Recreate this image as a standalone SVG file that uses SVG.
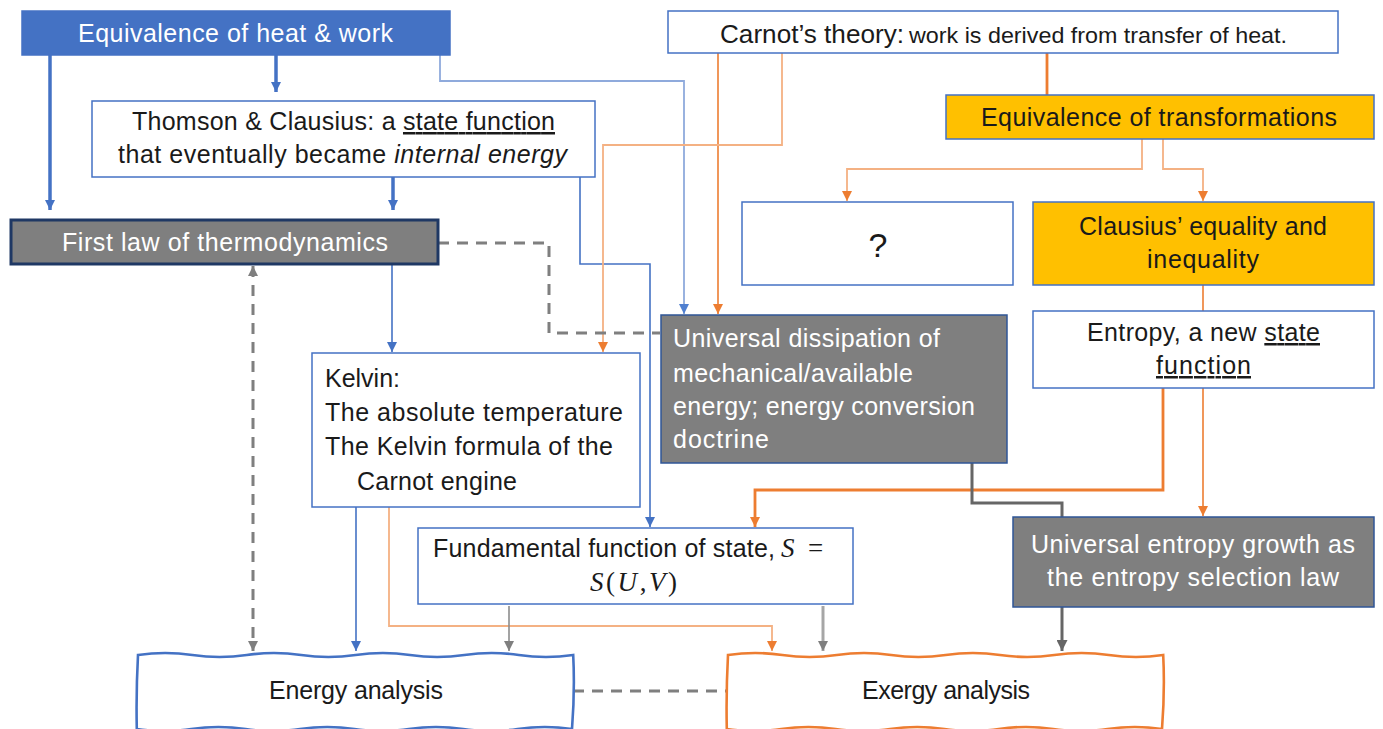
<svg xmlns="http://www.w3.org/2000/svg" width="1383" height="729" viewBox="0 0 1383 729">
  <style>
    text { font-family: "Liberation Sans", Arial, sans-serif; font-size: 25px; fill: #1a1a1a; }
    .w { fill: #ffffff; }
    .math { font-family: "Liberation Serif", "Times New Roman", serif; font-style: italic; }
    .mathr { font-family: "Liberation Serif", "Times New Roman", serif; font-style: normal; }
    .box { fill: #ffffff; stroke: #4472C4; stroke-width: 1.5; }
    .blue { fill: #4472C4; stroke: #4472C4; stroke-width: 1.5; }
    .gold { fill: #FFC000; stroke: #4472C4; stroke-width: 1.5; }
    .grey { fill: #7F7F7F; stroke: #2F5597; stroke-width: 1.5; }
    .law { fill: #7F7F7F; stroke: #1F3864; stroke-width: 3; }
    .c { fill: none; }
    .bl3 { stroke: #4472C4; stroke-width: 3.5; }
    .bl { stroke: #4472C4; stroke-width: 1.6; }
    .blt { stroke: #8FAADC; stroke-width: 1.8; }
    .or { stroke: #ED7D31; stroke-width: 1.6; }
    .or3 { stroke: #ED7D31; stroke-width: 2.8; }
    .orl { stroke: #F4B183; stroke-width: 1.8; }
    .dash { stroke: #7F7F7F; stroke-width: 3; stroke-dasharray: 11 8; }
    .dg { stroke: #666666; stroke-width: 3; }
    .g { stroke: #8C8C8C; stroke-width: 1.6; }
    .lg { stroke: #A6A6A6; stroke-width: 3; }
  </style>
  <defs>
    <marker id="aBlue" markerUnits="userSpaceOnUse" markerWidth="10" markerHeight="10" refX="10" refY="5" orient="auto"><path d="M0,0 L10,5 L0,10 z" fill="#4472C4"/></marker>
    <marker id="aBlueL" markerUnits="userSpaceOnUse" markerWidth="10" markerHeight="10" refX="10" refY="5" orient="auto"><path d="M0,0 L10,5 L0,10 z" fill="#4F7FD0"/></marker>
    <marker id="aOr" markerUnits="userSpaceOnUse" markerWidth="10" markerHeight="10" refX="10" refY="5" orient="auto"><path d="M0,0 L10,5 L0,10 z" fill="#ED7D31"/></marker>
    <marker id="aGrey" markerUnits="userSpaceOnUse" markerWidth="10" markerHeight="10" refX="10" refY="5" orient="auto"><path d="M0,0 L10,5 L0,10 z" fill="#7F7F7F"/></marker>
    <marker id="aDark" markerUnits="userSpaceOnUse" markerWidth="11" markerHeight="11" refX="11" refY="5.5" orient="auto"><path d="M0,0 L11,5.5 L0,11 z" fill="#666666"/></marker>
    <marker id="aDashEnd" markerUnits="userSpaceOnUse" markerWidth="10" markerHeight="10" refX="10" refY="5" orient="auto-start-reverse"><path d="M0,0 L10,5 L0,10 z" fill="#7F7F7F"/></marker>
  </defs>

  <!-- connectors -->
  <g id="connectors" class="c">
    <path class="c bl3" d="M50,55 V210" marker-end="url(#aBlue)"/>
    <path class="c bl3" d="M276,55 V92" marker-end="url(#aBlue)"/>
    <path class="c bl3" d="M393,177 V210" marker-end="url(#aBlue)"/>
    <path class="c blt" d="M440,55 V81 H684 V314" marker-end="url(#aBlueL)"/>
    <path class="c bl" d="M580,177 V264 H650 V527" marker-end="url(#aBlue)"/>
    <path class="c bl" d="M392,265 V352" marker-end="url(#aBlue)"/>
    <path class="c bl" d="M356,507 V651" marker-end="url(#aBlue)"/>

    <path class="c or" d="M718,53 V314" marker-end="url(#aOr)"/>
    <path class="c orl" d="M782,53 V145 H603 V352" marker-end="url(#aOr)"/>
    <path class="c or3" d="M1047,53 V95"/>
    <path class="c orl" d="M1142,139 V169 H847 V201" marker-end="url(#aOr)"/>
    <path class="c orl" d="M1163,139 V169 H1203 V201" marker-end="url(#aOr)"/>
    <path class="c or" d="M1203,285 V311"/>
    <path class="c or3" d="M1163,388 V490 H755 V527" marker-end="url(#aOr)"/>
    <path class="c or" d="M1203,388 V516" marker-end="url(#aOr)"/>
    <path class="c orl" d="M389,507 V626 H772 V651" marker-end="url(#aOr)"/>

    <path class="c dash" d="M438,243 H549 V333 H660"/>
    <path class="c dash" d="M253,266 V651" marker-start="url(#aDashEnd)" marker-end="url(#aDashEnd)"/>
    <path class="c dash" d="M573,691 H727"/>
    <path class="c dg" d="M972,463 V503 H1062 V517"/>
    <path class="c dg" d="M1062,607 V651" marker-end="url(#aDark)"/>
    <path class="c g" d="M509,606 V651" marker-end="url(#aGrey)"/>
    <path class="c lg" d="M823,606 V651" marker-end="url(#aGrey)"/>
  </g>

  <!-- nodes -->
  <g id="heat-work">
    <rect class="blue" x="22" y="11" width="428" height="44"/>
    <text class="w" x="78" y="42" textLength="315">Equivalence of heat &amp; work</text>
  </g>

  <g id="carnot">
    <rect class="box" x="668" y="11" width="670" height="42"/>
    <text x="720" y="43" style="font-size:26px" textLength="184" lengthAdjust="spacingAndGlyphs">Carnot’s theory:</text>
    <text x="909" y="43" style="font-size:22px" textLength="378" lengthAdjust="spacingAndGlyphs">work is derived from transfer of heat.</text>
  </g>

  <g id="thomson-clausius">
    <rect class="box" x="92" y="101" width="503" height="76"/>
    <text x="132" y="130" textLength="423">Thomson &amp; Clausius: a <tspan text-decoration="underline">state function</tspan></text>
    <text x="118" y="163" textLength="449">that eventually became <tspan font-style="italic">internal energy</tspan></text>
  </g>

  <g id="first-law">
    <rect class="law" x="11" y="220" width="427" height="44"/>
    <text class="w" x="62" y="251" textLength="326">First law of thermodynamics</text>
  </g>

  <g id="equivalence-transformations">
    <rect class="gold" x="946" y="95" width="428" height="44"/>
    <text x="981" y="126" textLength="356">Equivalence of transformations</text>
  </g>

  <g id="unknown">
    <rect class="box" x="742" y="202" width="271" height="83"/>
    <text x="878" y="257" text-anchor="middle" style="font-size:34px">?</text>
  </g>

  <g id="clausius-inequality">
    <rect class="gold" x="1033" y="202" width="341" height="83"/>
    <text x="1079" y="235" textLength="248">Clausius’ equality and</text>
    <text x="1147" y="268" textLength="112">inequality</text>
  </g>

  <g id="entropy">
    <rect class="box" x="1033" y="311" width="341" height="77"/>
    <text x="1087" y="341" textLength="233">Entropy, a new <tspan text-decoration="underline">state</tspan></text>
    <text x="1156" y="374" textLength="95" text-decoration="underline">function</text>
  </g>

  <g id="dissipation">
    <rect class="grey" x="661" y="315" width="346" height="148"/>
    <text class="w" x="673" y="347" textLength="267">Universal dissipation of</text>
    <text class="w" x="673" y="382" textLength="240">mechanical/available</text>
    <text class="w" x="673" y="415" textLength="302">energy; energy conversion</text>
    <text class="w" x="673" y="448" textLength="96">doctrine</text>
  </g>

  <g id="kelvin">
    <rect class="box" x="312" y="353" width="328" height="154"/>
    <text x="325" y="387" textLength="75">Kelvin:</text>
    <text x="325" y="421" textLength="298">The absolute temperature</text>
    <text x="325" y="455" textLength="288">The Kelvin formula of the</text>
    <text x="357" y="490" textLength="160">Carnot engine</text>
  </g>

  <g id="fundamental-function">
    <rect class="box" x="418" y="528" width="435" height="76"/>
    <text x="433" y="557" textLength="342">Fundamental function of state,</text>
    <text class="math" x="781" y="557" style="font-size:27px">S</text>
    <text class="mathr" x="808" y="557" style="font-size:27px">=</text>
    <text class="mathr" x="590" y="591" style="font-size:27px" textLength="87"><tspan class="math">S</tspan>(<tspan class="math">U</tspan>,<tspan class="math">V</tspan>)</text>
  </g>

  <g id="entropy-growth">
    <rect class="grey" x="1013" y="517" width="361" height="90"/>
    <text class="w" x="1031" y="553" textLength="324">Universal entropy growth as</text>
    <text class="w" x="1047" y="586" textLength="292">the entropy selection law</text>
  </g>

  <g id="energy-analysis">
    <path d="M138,655 q27.2,-4 54.4,0 t54.4,0 t54.4,0 t54.4,0 t54.4,0 t54.4,0 t54.4,0 t54.4,0 Q575,690 572,729 q-27.2,-4 -54.4,0 t-54.4,0 t-54.4,0 t-54.4,0 t-54.4,0 t-54.4,0 t-54.4,0 t-54.4,0 Q136,692 138,655 z" fill="#ffffff" stroke="#4472C4" stroke-width="2.6"/>
    <text x="269" y="699" textLength="174">Energy analysis</text>
  </g>

  <g id="exergy-analysis">
    <path d="M728,655 q27.2,-4 54.4,0 t54.4,0 t54.4,0 t54.4,0 t54.4,0 t54.4,0 t54.4,0 t54.4,0 Q1165,690 1162,729 q-27.2,-4 -54.4,0 t-54.4,0 t-54.4,0 t-54.4,0 t-54.4,0 t-54.4,0 t-54.4,0 t-54.4,0 Q726,692 728,655 z" fill="#ffffff" stroke="#ED7D31" stroke-width="2.6"/>
    <text x="862" y="699" textLength="168">Exergy analysis</text>
  </g>
</svg>
